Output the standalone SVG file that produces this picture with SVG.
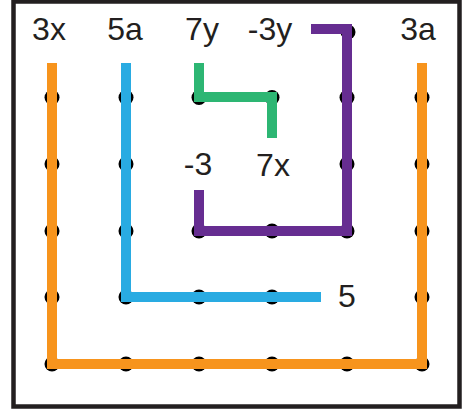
<svg xmlns="http://www.w3.org/2000/svg" width="462" height="414" viewBox="0 0 462 414">
<style>
.lbl{font-family:"Liberation Sans",Arial,sans-serif;font-size:32px;fill:#231F20;text-anchor:middle}
.ln{fill:none;stroke-width:10;stroke-linejoin:miter;stroke-linecap:butt}
</style>
<defs><circle id="d" r="7.5" fill="#000"/></defs>
<rect x="13.5" y="1.5" width="446" height="405" fill="#fff" stroke="#231F20" stroke-width="4.5"/>
<g id="dots">
<use href="#d" x="52" y="97.5"/><use href="#d" x="126" y="97.5"/><use href="#d" x="199" y="97.5"/><use href="#d" x="272" y="97.5"/><use href="#d" x="347" y="97.5"/><use href="#d" x="422" y="97.5"/>
<use href="#d" x="52" y="164"/><use href="#d" x="126" y="164"/><use href="#d" x="347" y="164"/><use href="#d" x="422" y="164"/>
<use href="#d" x="52" y="231"/><use href="#d" x="126" y="231"/><use href="#d" x="199" y="231"/><use href="#d" x="272" y="231"/><use href="#d" x="347" y="231"/><use href="#d" x="422" y="231"/>
<use href="#d" x="52" y="297"/><use href="#d" x="126" y="297"/><use href="#d" x="199" y="297"/><use href="#d" x="272" y="297"/><use href="#d" x="422" y="297"/>
<use href="#d" x="52" y="364"/><use href="#d" x="126" y="364"/><use href="#d" x="199" y="364"/><use href="#d" x="272" y="364"/><use href="#d" x="347" y="364"/><use href="#d" x="422" y="364"/>
<use href="#d" x="348" y="32"/>
</g>
<g id="connectors">
<polyline class="ln" stroke="#F7941D" points="52,63 52,364 422,364 422,63"/>
<polyline class="ln" stroke="#29ABE2" points="126,63 126,297 321,297"/>
<polyline class="ln" stroke="#2DB673" points="199,63 199,97 272,97 272,138"/>
<polyline class="ln" stroke="#662D91" points="311,29 347,29 347,231 199,231 199,190"/>
</g>
<g id="labels">
<text class="lbl" x="49" y="40">3x</text>
<text class="lbl" x="125" y="40">5a</text>
<text class="lbl" x="202" y="40">7y</text>
<text class="lbl" x="270" y="40">-3y</text>
<text class="lbl" x="418" y="40">3a</text>
<text class="lbl" x="273" y="176">7x</text>
<text class="lbl" x="198" y="175">-3</text>
<text class="lbl" x="347" y="307">5</text>
</g>
</svg>
